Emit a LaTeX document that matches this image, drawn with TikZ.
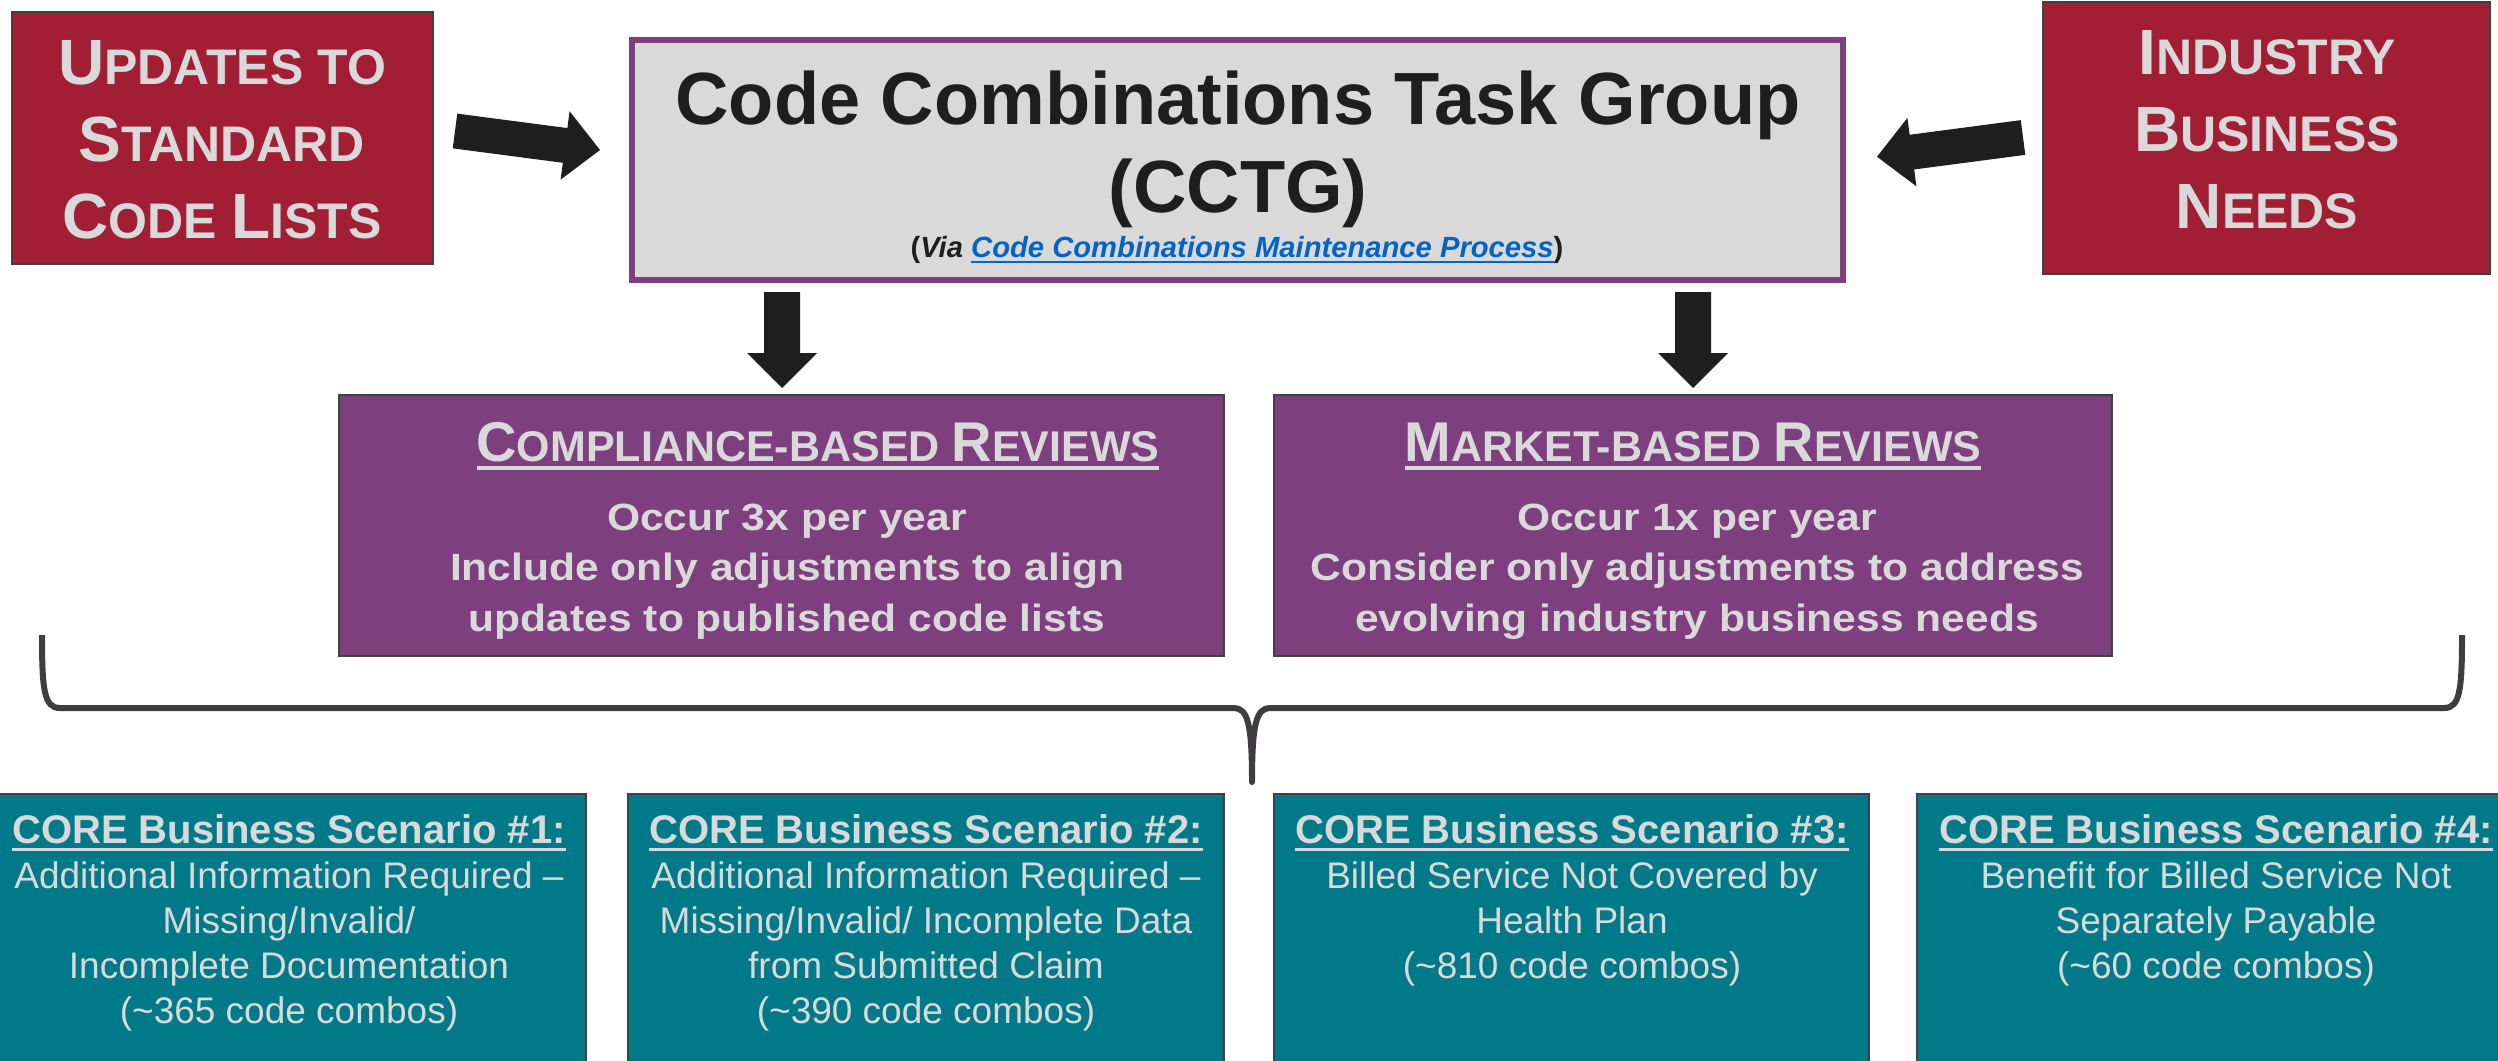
\documentclass[tikz,border=0pt]{standalone}
\usepackage{fontspec}
\setmainfont{Liberation Sans}
\newfontfamily\widesans[FakeStretch=1.12]{Liberation Sans}
\usetikzlibrary{calc}
\definecolor{redfill}{HTML}{A21E35}
\definecolor{boxline}{HTML}{404040}
\definecolor{lgray}{HTML}{D9D9D9}
\definecolor{purp}{HTML}{7E3F7F}
\definecolor{tealc}{HTML}{007A89}
\definecolor{arrowc}{HTML}{1E1E1E}
\definecolor{bracec}{HTML}{3F3D3F}
\definecolor{linkblue}{HTML}{0563C1}
\newcommand\RC[2]{{\fontsize{32pt}{38.5pt}\selectfont #1}{\fontsize{25pt}{38.5pt}\selectfont #2}}
\newcommand\PC[2]{{\fontsize{28pt}{30pt}\selectfont #1}{\fontsize{21.5pt}{30pt}\selectfont #2}}
\newcommand\myul[3]{\setbox0\hbox{#3}\rlap{\rule[-#1]{\wd0}{#2}}\box0}
\newcommand\blockarrow[5]{%
  \coordinate (#1-#2-h) at ($(#2)!#5!(#1)$);
  \fill[arrowc] ($(#1)!#3!90:(#2)$) -- ($(#1-#2-h)!#3!90:(#2)$) -- ($(#1-#2-h)!#4!90:(#2)$) -- (#2)
    -- ($(#1-#2-h)!#4!-90:(#2)$) -- ($(#1-#2-h)!#3!-90:(#2)$) -- ($(#1)!#3!-90:(#2)$) -- cycle;}
\tikzset{
  redbox/.style={draw=boxline, line width=1pt, fill=redfill, inner sep=0},
  redtext/.style={anchor=north, align=center, inner sep=0, text=lgray, font=\bfseries\fontsize{25pt}{38.5pt}\selectfont},
  cctgbox/.style={draw=purp, line width=3pt, fill=lgray, inner sep=0},
  purpbox/.style={draw=boxline, line width=1pt, fill=purp, inner sep=0},
  ptitle/.style={anchor=base, inner sep=0, text=lgray, font=\bfseries\fontsize{21.5pt}{30pt}\selectfont},
  pbody/.style={anchor=north, align=center, inner sep=0, text=lgray, font=\widesans\bfseries\fontsize{19pt}{25.25pt}\selectfont},
  tealbox/.style={draw=boxline, line width=1pt, fill=tealc, inner sep=0, minimum height=143pt},
  ttitle/.style={anchor=base, inner sep=0, text=lgray, font=\bfseries\fontsize{20pt}{22.5pt}\selectfont},
  tbody/.style={anchor=north, align=center, inner sep=0, text=lgray, font=\fontsize{18.5pt}{22.5pt}\selectfont},
  brace/.style={draw=bracec, line width=3pt, line join=round}
}
\begin{document}
\begin{tikzpicture}[x=0.5pt, y=-0.5pt]
\useasboundingbox (0,0) rectangle (2498,1060);
\fill[white] (0,0) rectangle (2498,1060);

% top boxes
\node[redbox, minimum width=210.5pt, minimum height=126pt] (redL) at (222.5,138) {};
\node[redtext] (redLt) at (222,28) {\rule{0pt}{28pt}\RC{U}{PDATES TO}\\\RC{S}{TANDARD}\\\RC{C}{ODE }\RC{L}{ISTS}};
\node[redbox, minimum width=223.5pt, minimum height=136pt] (redR) at (2266.5,138) {};
\node[redtext] (redRt) at (2267,18) {\rule{0pt}{28pt}\RC{I}{NDUSTRY}\\\RC{B}{USINESS}\\\RC{N}{EEDS}};

\node[cctgbox, minimum width=605.5pt, minimum height=120pt] (cctg) at (1237.5,160) {};
\node[anchor=north, align=center, inner sep=0, text=arrowc, font=\bfseries\fontsize{37pt}{44pt}\selectfont] (cctgt) at (1238,64) {\rule{0pt}{30pt}Code Combinations Task Group\\(CCTG)};
\node[anchor=base, inner sep=0, text=arrowc, font=\bfseries\fontsize{14.6pt}{16pt}\selectfont] (via) at (1237,257) {(\textit{Via} \textcolor{linkblue}{\myul{3pt}{1pt}{\textit{Code Combinations Maintenance Process}}})};

% arrows
\coordinate (aLt) at (455,131); \coordinate (aLh) at (600,150);
\coordinate (aRt) at (2023,137.5); \coordinate (aRh) at (1877,156.7);
\coordinate (dLt) at (782,292); \coordinate (dLh) at (782,388);
\coordinate (dRt) at (1693,292); \coordinate (dRh) at (1693,388);
\blockarrow{aLt}{aLh}{8.75pt}{17.25pt}{17.6pt}
\blockarrow{aRt}{aRh}{8.75pt}{17.25pt}{17.6pt}
\blockarrow{dLt}{dLh}{9pt}{17.5pt}{17.5pt}
\blockarrow{dRt}{dRh}{9pt}{17.5pt}{17.5pt}

% purple boxes
\node[purpbox, minimum width=442.5pt, minimum height=130.5pt] (purpL) at (781.5,525.5) {};
\node[ptitle] (purpLt) at (818,461) {\myul{4.5pt}{2pt}{\PC{C}{OMPLIANCE-BASED }\PC{R}{EVIEWS}}};
\node[pbody] (purpLb) at (787,498) {\rule{0pt}{16pt}Occur 3x per year\\Include only adjustments to align\\updates to published code lists};
\node[purpbox, minimum width=419pt, minimum height=130.5pt] (purpR) at (1693,525.5) {};
\node[ptitle] (purpRt) at (1693,461) {\myul{4.5pt}{2pt}{\PC{M}{ARKET-BASED }\PC{R}{EVIEWS}}};
\node[pbody] (purpRb) at (1697,498) {\rule{0pt}{16pt}Occur 1x per year\\Consider only adjustments to address\\evolving industry business needs};

% brace
\draw[brace] (42,635) .. controls (42,690) and (44,708) .. (60,708) -- (1234,708)
  .. controls (1248,708) and (1252,725) .. (1252,782)
  .. controls (1252,725) and (1256,708) .. (1270,708) -- (2444,708)
  .. controls (2460,708) and (2462,690) .. (2462,635);

% teal boxes
\node[tealbox, minimum width=294.5pt] (teal1) at (291.5,937) {};
\node[tealbox, minimum width=298pt] (teal2) at (926,937) {};
\node[tealbox, minimum width=297.5pt] (teal3) at (1571.5,937) {};
\node[tealbox, minimum width=299pt] (teal4) at (2216,937) {};

\node[ttitle] (t1t) at (289,843) {\myul{3.75pt}{1.5pt}{CORE Business Scenario \#1:}};
\node[tbody] (t1b) at (289,858) {\rule{0pt}{15pt}Additional Information Required –\\Missing/Invalid/\\Incomplete Documentation\\(\textasciitilde365 code combos)};
\node[ttitle] (t2t) at (926,843) {\myul{3.75pt}{1.5pt}{CORE Business Scenario \#2:}};
\node[tbody] (t2b) at (926,858) {\rule{0pt}{15pt}Additional Information Required –\\Missing/Invalid/ Incomplete Data\\from Submitted Claim\\(\textasciitilde390 code combos)};
\node[ttitle] (t3t) at (1572,843) {\myul{3.75pt}{1.5pt}{CORE Business Scenario \#3:}};
\node[tbody] (t3b) at (1572,858) {\rule{0pt}{15pt}Billed Service Not Covered by\\Health Plan\\(\textasciitilde810 code combos)};
\node[ttitle] (t4t) at (2216,843) {\myul{3.75pt}{1.5pt}{CORE Business Scenario \#4:}};
\node[tbody] (t4b) at (2216,858) {\rule{0pt}{15pt}Benefit for Billed Service Not\\Separately Payable\\(\textasciitilde60 code combos)};
\end{tikzpicture}
\end{document}
